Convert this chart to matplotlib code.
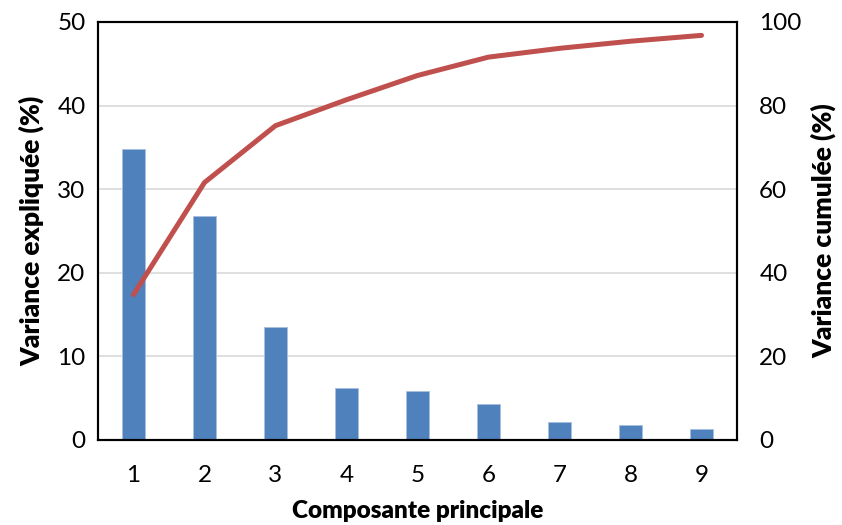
import numpy as np
import matplotlib
matplotlib.use('Agg')
import matplotlib.pyplot as plt

plt.rcParams['font.family'] = ['Lato', 'DejaVu Sans']

# Data
composantes = [1, 2, 3, 4, 5, 6, 7, 8, 9]
variance_expliquee = [34.8, 26.8, 13.55, 6.2, 5.85, 4.35, 2.1, 1.75, 1.35]
variance_cumulee = [34.8, 61.6, 75.2, 81.4, 87.2, 91.6, 93.7, 95.4, 96.8]

fig = plt.figure(figsize=(8.42, 5.25), dpi=100)
ax = fig.add_axes([98 / 842, 85 / 525, 639 / 842, 418 / 525])

ax.bar(composantes, variance_expliquee, width=0.31, color='#4F81BD',
       edgecolor='#A7C0DE', linewidth=0.6, zorder=2)
ax.set_xlim(0.5, 9.5)
ax.set_ylim(0, 50)
ax.set_yticks(np.arange(0, 51, 10))
ax.set_xticks(composantes)
ax.yaxis.grid(True, color='#D9D9D9', linewidth=1.2, zorder=0)
ax.set_axisbelow(True)
ax.tick_params(axis='both', length=0, labelsize=17.5, colors='black')
ax.tick_params(axis='x', pad=18)
ax.tick_params(axis='y', pad=9)
ax.set_xlabel('Composante principale', fontsize=17.5, fontweight='heavy', labelpad=10)
ax.set_ylabel('Variance expliquée (%)', fontsize=19, fontweight='heavy', labelpad=9)
for s in ax.spines.values():
    s.set_linewidth(1.5)
    s.set_color('black')

ax2 = ax.twinx()
ax2.plot(composantes, variance_cumulee, color='#C0504D', linewidth=3.6,
         solid_capstyle='round', solid_joinstyle='round')
ax2.set_ylim(0, 100)
ax2.set_yticks(np.arange(0, 101, 20))
ax2.tick_params(axis='y', length=0, labelsize=17.5, pad=16, colors='black')
ax2.set_ylabel('Variance cumulée (%)', fontsize=19, fontweight='heavy', labelpad=7)
for s in ax2.spines.values():
    s.set_linewidth(1.5)
    s.set_color('black')

fig.savefig('out.png', dpi=100)
